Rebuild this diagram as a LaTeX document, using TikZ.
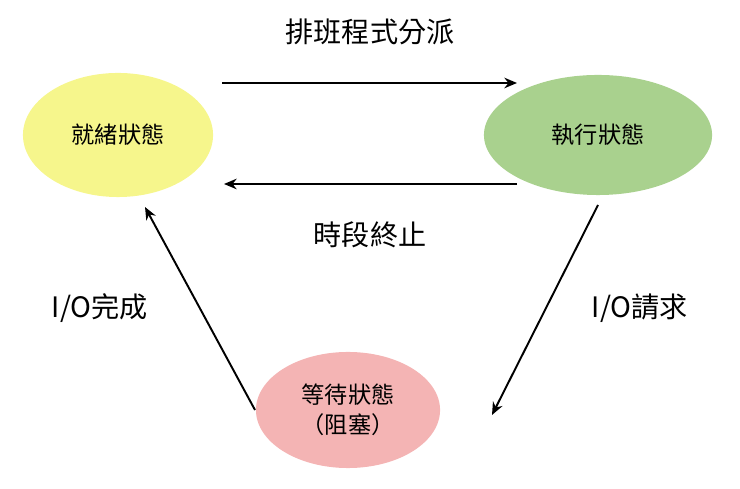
\documentclass[tikz,border=0pt]{standalone}
\usepackage{fontspec}
\setmainfont{Noto Sans CJK TC}
\usetikzlibrary{arrows.meta,shapes.geometric}
\definecolor{cy}{HTML}{F6F68C}
\definecolor{cg}{HTML}{A9D18E}
\definecolor{cp}{HTML}{F4B4B4}
\begin{document}
\begin{tikzpicture}[x=0.01cm,y=-0.01cm,
  st/.style={ellipse,inner sep=0pt,font=\fontsize{6.6}{8.6}\selectfont,align=center},
  arr/.style={-{Stealth[length=3.6pt,width=3pt]},line width=0.55pt},
  lbl/.style={font=\fontsize{8}{10}\selectfont}]
\useasboundingbox (0,0) rectangle (740,489);
\node[st,fill=cy,minimum width=1.90cm,minimum height=1.24cm] (r) at (118,135) {就緒狀態};
\node[st,fill=cg,minimum width=2.28cm,minimum height=1.20cm] (e) at (598,135) {執行狀態};
\node[st,fill=cp,minimum width=1.84cm,minimum height=1.16cm] (w) at (348,410) {等待狀態\\（阻塞）};
\coordinate (a1) at (222,83); \coordinate (a2) at (517,83);
\coordinate (b1) at (517,184); \coordinate (b2) at (224,184);
\coordinate (c1) at (598,205); \coordinate (c2) at (492,415);
\coordinate (d1) at (255,410); \coordinate (d2) at (145,207);
\draw[arr] (a1) -- (a2);
\draw[arr] (b1) -- (b2);
\draw[arr] (c1) -- (c2);
\draw[arr] (d1) -- (d2);
\node[lbl] (t1) at (370,32) {排班程式分派};
\node[lbl] (t2) at (370,235) {時段終止};
\node[lbl] (t3) at (100,308) {I/O完成};
\node[lbl] (t4) at (640,308) {I/O請求};
\end{tikzpicture}
\end{document}
